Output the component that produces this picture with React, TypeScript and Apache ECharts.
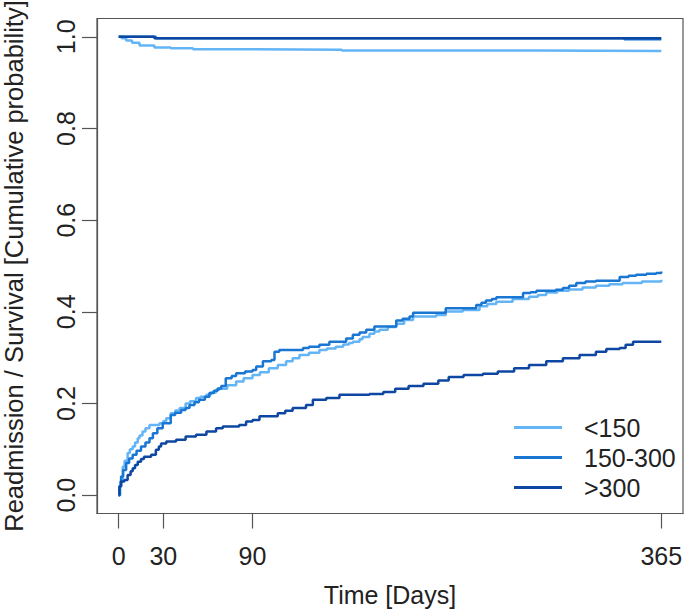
import React, { useEffect, useRef } from "react";
import * as echarts from "echarts";

// ---- Data ----
const groupNames = ["<150", "150-300", ">300"];
const groupColors = ["#64B5F6", "#1976D2", "#0D47A1"];

const xTickValues = [0, 30, 90, 365];
const yTickValues = [0, 0.2, 0.4, 0.6, 0.8, 1.0];

// Readmission (cumulative incidence), <150
const lowReadmDays = [0, 1, 2.7, 4, 6, 7.5, 9.4, 11, 12.8, 14, 16, 18, 20.7, 27.4, 30, 32, 35, 38, 41, 45, 48, 52, 55, 59, 62, 65.5, 67.8, 73, 79, 84, 90, 95, 101, 107, 112.6, 117, 121.6, 128, 135, 140, 146, 151, 155, 157.5, 162, 164, 168.7, 172, 175.4, 181, 186.7, 192, 198, 213.6, 220, 231.5, 242.7, 248, 254, 265, 276, 282, 287.6, 295, 303, 312, 321, 330, 339, 352, 365];
const lowReadmVals = [0, 0.03, 0.062, 0.075, 0.092, 0.1, 0.106, 0.115, 0.124, 0.13, 0.139, 0.146, 0.153, 0.157, 0.162, 0.168, 0.179, 0.185, 0.19, 0.2, 0.205, 0.212, 0.215, 0.219, 0.224, 0.23, 0.232, 0.24, 0.248, 0.255, 0.262, 0.268, 0.277, 0.284, 0.292, 0.299, 0.306, 0.311, 0.317, 0.32, 0.324, 0.329, 0.332, 0.335, 0.34, 0.345, 0.352, 0.357, 0.361, 0.367, 0.374, 0.382, 0.39, 0.393, 0.401, 0.404, 0.412, 0.417, 0.422, 0.428, 0.433, 0.437, 0.442, 0.446, 0.449, 0.453, 0.457, 0.46, 0.463, 0.466, 0.47];

// Readmission, 150-300
const midReadmDays = [0, 0.5, 1.6, 3, 5, 7, 9.4, 12, 15, 18, 20.7, 23, 26, 29.6, 35, 38, 42, 45, 47.6, 51, 54, 58, 61, 64, 66.6, 69, 72, 76, 79, 85, 90, 92.5, 97, 102.6, 104.8, 108, 124, 128, 135, 141.7, 153, 157.5, 162, 166.5, 172, 186.7, 191, 195.6, 198, 220, 240.5, 244, 247, 251, 254, 272, 277, 281, 294, 298.8, 303, 307.8, 314, 321, 337, 343, 348, 355, 361.6, 365];
const midReadmVals = [0, 0.02, 0.041, 0.055, 0.07, 0.08, 0.088, 0.097, 0.106, 0.115, 0.124, 0.135, 0.146, 0.157, 0.175, 0.18, 0.186, 0.19, 0.197, 0.203, 0.208, 0.215, 0.223, 0.228, 0.233, 0.238, 0.255, 0.26, 0.266, 0.27, 0.273, 0.281, 0.292, 0.295, 0.313, 0.317, 0.321, 0.324, 0.328, 0.335, 0.342, 0.35, 0.355, 0.361, 0.368, 0.381, 0.385, 0.39, 0.398, 0.408, 0.415, 0.42, 0.425, 0.428, 0.432, 0.441, 0.443, 0.446, 0.448, 0.452, 0.457, 0.463, 0.466, 0.468, 0.476, 0.479, 0.481, 0.483, 0.485, 0.488];

// Readmission, >300
const highReadmDays = [0, 0.5, 1.6, 3.8, 6, 8, 9.4, 11, 12.8, 15, 17, 21.8, 25, 27, 28.5, 32, 38.6, 45, 52, 59, 65.5, 70, 81, 85.7, 90, 94.7, 107, 112, 117, 126, 130.6, 139.6, 148.5, 168.7, 178, 186, 195, 205, 215, 222, 232, 245, 255, 266, 276, 287.6, 298.8, 310, 321, 328, 337, 341, 346, 365];
const highReadmVals = [0, 0.019, 0.03, 0.033, 0.044, 0.052, 0.059, 0.066, 0.073, 0.079, 0.084, 0.088, 0.099, 0.106, 0.113, 0.117, 0.121, 0.128, 0.132, 0.139, 0.146, 0.15, 0.153, 0.161, 0.164, 0.172, 0.179, 0.184, 0.19, 0.197, 0.208, 0.212, 0.219, 0.221, 0.225, 0.232, 0.238, 0.243, 0.25, 0.258, 0.262, 0.265, 0.27, 0.277, 0.284, 0.292, 0.299, 0.306, 0.313, 0.319, 0.321, 0.328, 0.335, 0.335];

// Survival
const lowSurvDays = [0, 2, 5, 9, 14, 24, 35, 50, 73, 150, 280, 365];
const lowSurvVals = [1, 0.997, 0.992, 0.987, 0.981, 0.977, 0.975, 0.973, 0.972, 0.97, 0.969, 0.969];
const midSurvDays = [0, 25, 340, 365];
const midSurvVals = [1, 0.997, 0.995, 0.995];
const highSurvDays = [0, 24, 365];
const highSurvVals = [1, 0.997, 0.997];

const zip = (xs: number[], ys: number[]) => xs.map((x, i) => [x, ys[i]]);

const FONT = "'Liberation Sans', Arial, sans-serif";

export default function App() {
  const ref = useRef<HTMLDivElement>(null);

  useEffect(() => {
    if (!ref.current) return;
    const chart = echarts.init(ref.current, undefined, { renderer: "svg" });

    const readm = [
      zip(lowReadmDays, lowReadmVals),
      zip(midReadmDays, midReadmVals),
      zip(highReadmDays, highReadmVals),
    ];
    const surv = [
      zip(lowSurvDays, lowSurvVals),
      zip(midSurvDays, midSurvVals),
      zip(highSurvDays, highSurvVals),
    ];

    const mk = (i: number, data: number[][]) => ({
      name: groupNames[i],
      type: "line",
      step: "end",
      data,
      symbol: "none",
      showSymbol: false,
      lineStyle: { color: groupColors[i], width: 2.5 },
      itemStyle: { color: groupColors[i] },
      emphasis: { disabled: true },
    });

    const series: any[] = [];
    [0, 1, 2].forEach((i) => series.push(mk(i, readm[i])));
    [0, 1, 2].forEach((i) => series.push(mk(i, surv[i])));

    chart.setOption({
      animation: false,
      backgroundColor: "#ffffff",
      textStyle: { fontFamily: FONT },
      grid: {
        left: 97,
        top: 18.5,
        right: 2,
        bottom: 95.5,
        show: true,
        borderColor: "#555",
        borderWidth: 1.2,
        containLabel: false,
        outerBoundsMode: "none",
      },
      legend: {
        data: groupNames.map((n, i) => ({ name: n, itemStyle: { color: groupColors[i] } })),
        orient: "vertical",
        left: 509,
        top: 410,
        icon: "rect",
        itemWidth: 48,
        itemHeight: 3,
        itemGap: 5,
        selectedMode: false,
        textStyle: {
          fontSize: 25,
          lineHeight: 25,
          color: "#222",
          fontFamily: FONT,
          padding: [0, 0, 0, 17],
        },
      },
      xAxis: {
        type: "value",
        position: "bottom",
        min: -14.6,
        max: 379.6,
        name: "Time [Days]",
        nameLocation: "middle",
        nameGap: 69,
        nameTextStyle: { fontSize: 25, color: "#222", fontFamily: FONT },
        axisLine: { show: true, onZero: false, lineStyle: { color: "#555", width: 1.2 } },
        splitLine: { show: false },
        axisTick: {
          show: true,
          inside: false,
          length: 15,
          customValues: xTickValues,
          lineStyle: { color: "#555", width: 1.2 },
        },
        axisLabel: {
          customValues: xTickValues,
          margin: 30,
          fontSize: 25,
          color: "#222",
          fontFamily: FONT,
        },
      },
      yAxis: {
        type: "value",
        position: "left",
        min: -0.04,
        max: 1.04,
        name: "Readmission / Survival [Cumulative probability]",
        nameLocation: "middle",
        nameRotate: 90,
        nameGap: 70,
        nameTextStyle: { fontSize: 25.5, color: "#222", fontFamily: FONT },
        axisLine: { show: true, onZero: false, lineStyle: { color: "#555", width: 1.2 } },
        splitLine: { show: false },
        axisTick: {
          show: true,
          inside: false,
          length: 15,
          customValues: yTickValues,
          lineStyle: { color: "#555", width: 1.2 },
        },
        axisLabel: {
          customValues: yTickValues,
          rotate: 90,
          margin: 19,
          fontSize: 25,
          color: "#222",
          fontFamily: FONT,
          formatter: (v: number) => v.toFixed(1),
        },
      },
      series,
    });

    return () => chart.dispose();
  }, []);

  return (
    <div
      ref={ref}
      style={{ position: "fixed", left: 0, top: 0, width: 685, height: 609 }}
    />
  );
}
